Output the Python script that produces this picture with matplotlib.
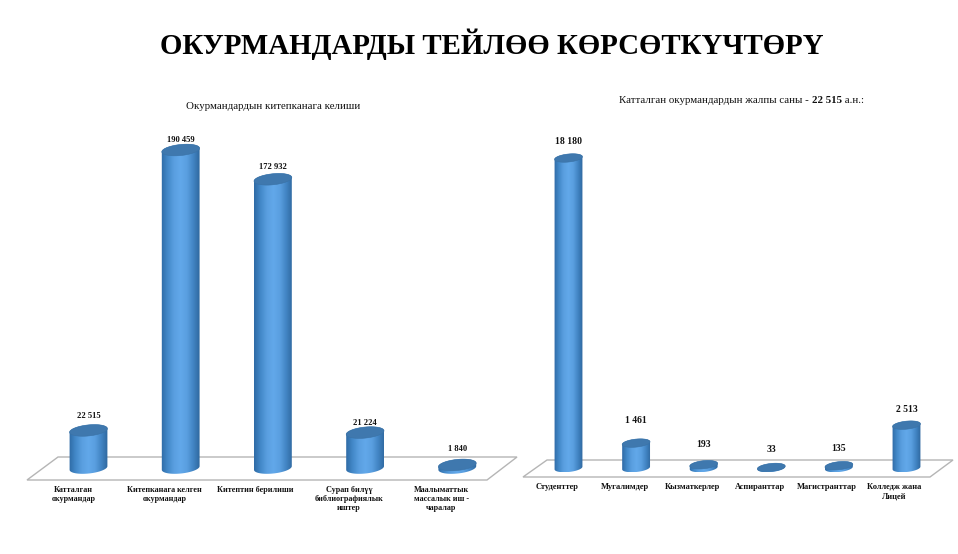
import numpy as np
import matplotlib
matplotlib.use('Agg')
import matplotlib.pyplot as plt
from matplotlib.path import Path
from matplotlib.patches import PathPatch, Polygon
from matplotlib.colors import LinearSegmentedColormap

plt.rcParams['font.family'] = ['Liberation Serif', 'DejaVu Serif']

title = 'ОКУРМАНДАРДЫ ТЕЙЛӨӨ КӨРСӨТКҮЧТӨРҮ'
left_title = 'Окурмандардын китепканага келиши'
left_cats = ['Катталган\nокурмандар', 'Китепканага келген\nокурмандар', 'Китептин берилиши',
             'Сурап билүү\nбиблиографиялык\nиштер', 'Маалыматтык\nмассалык иш -\nчаралар']
left_vals = [22515, 190459, 172932, 21224, 1840]
left_text = ['22 515', '190 459', '172 932', '21 224', '1 840']
right_cats = ['Студенттер', 'Мугалимдер', 'Кызматкерлер', 'Аспиранттар', 'Магистранттар',
              'Колледж жана\nЛицей']
right_vals = [18180, 1461, 193, 33, 135, 2513]
right_text = ['18 180', '1 461', '193', '33', '135', '2 513']

W, H = 958, 554
fig = plt.figure(figsize=(W / 100, H / 100), dpi=100, facecolor='white')
cmap = LinearSegmentedColormap.from_list('cyl', ['#2f6ba6', '#4389c9', '#5a9fe0', '#62a8ea', '#5a9fe0', '#4285c4', '#2f689f'])


def panel(box, x0, dx, base, scale, a, b, plane, vals, cats, texts, lab_gap, cat_y, cat_shift, vfs, cfs):
    L, T, R, B = box
    ax = fig.add_axes([L / W, 1 - B / H, (R - L) / W, (B - T) / H])
    ax.set_xlim((L - x0) / dx, (R - x0) / dx)
    ax.set_ylim((base - B) * scale, (base - T) * scale)
    ax.axis('off')
    ux, uy = 1 / dx, scale
    pts = [((px - x0) * ux, (base - py) * uy) for px, py in plane]
    ax.add_patch(Polygon(pts, closed=True, fc='white', ec='#b5b5b5', lw=1.0, zorder=1))
    t = np.linspace(0, 2 * np.pi, 73)
    tilt = np.deg2rad(6)

    def ell(i, v, th):
        ex = a * np.cos(th)
        ey = b * np.sin(th)
        return (i + (ex * np.cos(tilt) - ey * np.sin(tilt)) * ux,
                v + (ex * np.sin(tilt) + ey * np.cos(tilt)) * uy)

    th_lo = np.linspace(np.pi, 2 * np.pi, 37)
    th_up = np.linspace(0, np.pi, 37)
    for i, v in enumerate(vals):
        xb, yb = ell(i, 0, th_lo)
        xt, yt = ell(i, v, th_up)
        poly = np.column_stack([np.r_[xb, xt], np.r_[yb, yt]])
        body = PathPatch(Path(np.vstack([poly, poly[0]]), closed=True), fc='none', ec='none', transform=ax.transData)
        ax.add_patch(body)
        im = ax.imshow(np.linspace(0, 1, 64)[None, :], cmap=cmap, aspect='auto', zorder=3,
                       extent=[i - a * ux * 1.02, i + a * ux * 1.02, yb.min(), max(yt.max(), yb.max())])
        im.set_clip_path(body)
        xe, ye = ell(i, v, t)
        ax.fill(xe, ye, fc='#3f78ae', ec='#3a72a6', lw=0.4, zorder=4)
        ax.text(i, v + lab_gap[i] * uy, texts[i], ha='center', va='center', fontsize=vfs, fontweight='bold', color='#111111', zorder=5)
        ax.text(i + cat_shift[i] * ux, (base - cat_y) * uy, cats[i], ha='center', va='top', fontsize=cfs, fontweight='bold', color='#111111', linespacing=1.2, zorder=5)
    ax.set_xlim((L - x0) / dx, (R - x0) / dx)
    ax.set_ylim((base - B) * scale, (base - T) * scale)
    return ax


panel((15, 120, 530, 530), 88.5, 92.2, 468, 190459 / 318, 19, 5.5,
      [(27, 480), (487, 480), (517, 457), (58, 457)], left_vals, left_cats, left_text,
      [14, 10, 12, 10, 16], 486, [-15, -16, -18, -16, -16], 6.1, 5.9)
panel((515, 120, 958, 530), 568.5, 67.6, 468, 18180 / 310, 14, 4,
      [(523, 477), (930, 477), (953, 460), (547, 460)], right_vals, right_cats, right_text,
      [17, 23, 20, 18, 17, 16], 483, [-11, -11, -11, -11, -12, -12], 6.9, 6.0)

fig.text(492 / W, 1 - 44 / H, title, ha='center', va='center', fontsize=20.8, fontweight='bold', color='black')
fig.text(273.5 / W, 1 - 106 / H, left_title, ha='center', va='center', fontsize=7.85, color='#111111')

r = fig.canvas.get_renderer()
x = 619.0
for s, w in [('Катталган окурмандардын жалпы саны - ', 'normal'), ('22 515', 'bold'), (' а.н.:', 'normal')]:
    tx = fig.text(x / W, 1 - 100.5 / H, s.replace(' ', '\u00a0'), ha='left', va='center', fontsize=7.8, fontweight=w, color='#111111')
    x = tx.get_window_extent(r).x1

fig.savefig('out.png', dpi=100, facecolor='white')
